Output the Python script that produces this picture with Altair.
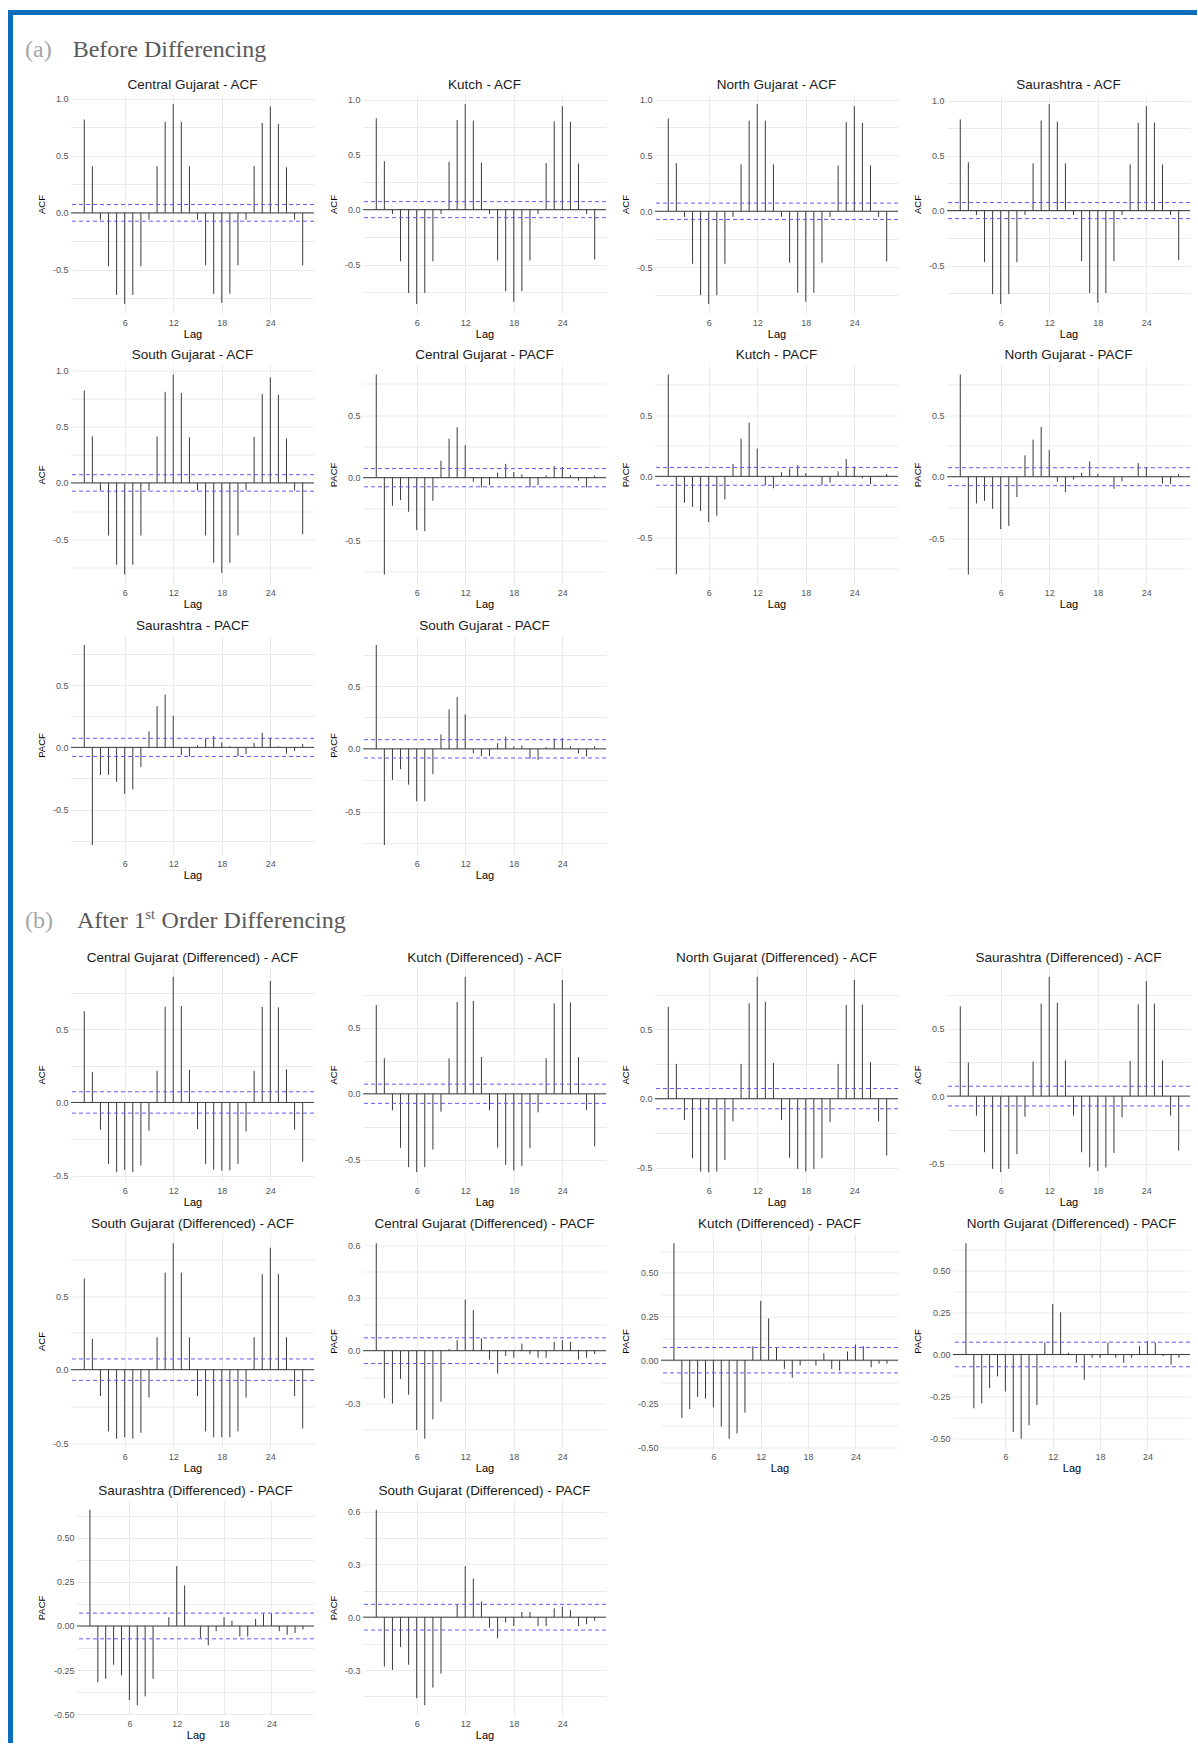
import math
import altair as alt
import pandas as pd

# ---------------- data ----------------
LAGS = list(range(1, 29))
CI = 0.073
X_BREAKS = [6, 12, 18, 24]
X_DOMAIN = [-0.64, 29.4]

ACF_A_TICKS = [-0.5, 0.0, 0.5, 1.0]
PACF_A_TICKS = [-0.5, 0.0, 0.5]
ACF_B_TICKS = [-0.5, 0.0, 0.5]
PACF_B_TICKS_1 = [-0.3, 0.0, 0.3, 0.6]
PACF_B_TICKS_2 = [-0.50, -0.25, 0.0, 0.25, 0.50]

# (a) Before differencing
A_CG_ACF = [0.82, 0.41, -0.06, -0.47, -0.72, -0.80, -0.72, -0.47, -0.06, 0.41, 0.80, 0.956, 0.80, 0.41,
            -0.06, -0.46, -0.71, -0.79, -0.71, -0.46, -0.06, 0.41, 0.79, 0.935, 0.78, 0.40, -0.06, -0.46]
A_KU_ACF = [0.832, 0.442, -0.04, -0.47, -0.76, -0.86, -0.76, -0.47, -0.04, 0.436, 0.817, 0.963, 0.811, 0.43,
            -0.04, -0.463, -0.744, -0.84, -0.744, -0.463, -0.04, 0.424, 0.805, 0.942, 0.80, 0.42, -0.04, -0.455]
A_NG_ACF = [0.83, 0.43, -0.05, -0.47, -0.75, -0.83, -0.75, -0.47, -0.05, 0.42, 0.81, 0.96, 0.81, 0.42,
            -0.05, -0.46, -0.73, -0.81, -0.73, -0.46, -0.05, 0.41, 0.80, 0.94, 0.79, 0.41, -0.05, -0.45]
A_SA_ACF = [0.83, 0.44, -0.04, -0.47, -0.76, -0.85, -0.76, -0.47, -0.04, 0.43, 0.82, 0.97, 0.81, 0.43,
            -0.04, -0.46, -0.75, -0.84, -0.75, -0.46, -0.04, 0.42, 0.80, 0.95, 0.80, 0.42, -0.04, -0.45]
A_SG_ACF = [0.822, 0.414, -0.068, -0.467, -0.728, -0.814, -0.728, -0.467, -0.068, 0.414, 0.81, 0.964, 0.80, 0.405,
            -0.068, -0.467, -0.71, -0.80, -0.71, -0.467, -0.065, 0.41, 0.79, 0.938, 0.784, 0.396, -0.068, -0.456]

A_CG_PACF = [0.826, -0.775, -0.225, -0.18, -0.273, -0.42, -0.428, -0.185, 0.136, 0.313, 0.404, 0.26, -0.032, -0.078,
             -0.06, 0.04, 0.11, 0.045, 0.027, -0.078, -0.059, 0.019, 0.094, 0.086, 0.021, -0.024, -0.078, 0.016]
A_KU_PACF = [0.833, -0.803, -0.216, -0.249, -0.284, -0.374, -0.322, -0.189, 0.10, 0.309, 0.44, 0.227, -0.071, -0.098,
             0.033, 0.063, 0.09, 0.027, 0.004, -0.074, -0.052, 0.041, 0.142, 0.079, -0.016, -0.063, 0.004, 0.019]
A_NG_PACF = [0.832, -0.796, -0.217, -0.196, -0.261, -0.427, -0.40, -0.166, 0.174, 0.302, 0.405, 0.217, -0.041, -0.125,
             -0.022, 0.033, 0.125, 0.024, 0.002, -0.098, -0.038, 0.005, 0.111, 0.076, 0.001, -0.057, -0.06, 0.022]
A_SA_PACF = [0.823, -0.785, -0.223, -0.22, -0.277, -0.374, -0.339, -0.159, 0.129, 0.331, 0.425, 0.253, -0.062, -0.073,
             0.016, 0.067, 0.091, 0.04, 0.008, -0.07, -0.054, 0.035, 0.118, 0.075, 0.008, -0.051, -0.03, 0.027]
A_SG_PACF = [0.827, -0.766, -0.247, -0.162, -0.285, -0.418, -0.418, -0.202, 0.114, 0.314, 0.412, 0.274, -0.035, -0.059,
             -0.059, 0.045, 0.098, 0.019, 0.027, -0.08, -0.088, 0.013, 0.082, 0.085, 0.021, -0.035, -0.061, 0.021]

# (b) After 1st order differencing
B_CG_ACF = [0.623, 0.209, -0.186, -0.42, -0.477, -0.461, -0.477, -0.432, -0.193, 0.216, 0.655, 0.859, 0.659, 0.223,
            -0.182, -0.42, -0.459, -0.466, -0.464, -0.42, -0.198, 0.216, 0.652, 0.83, 0.65, 0.227, -0.186, -0.405]
B_KU_ACF = [0.674, 0.27, -0.126, -0.41, -0.558, -0.596, -0.558, -0.424, -0.136, 0.27, 0.697, 0.889, 0.705, 0.28,
            -0.126, -0.41, -0.54, -0.583, -0.55, -0.414, -0.141, 0.27, 0.687, 0.864, 0.694, 0.278, -0.124, -0.40]
B_NG_ACF = [0.663, 0.251, -0.155, -0.43, -0.526, -0.531, -0.526, -0.443, -0.163, 0.251, 0.689, 0.88, 0.699, 0.258,
            -0.155, -0.426, -0.507, -0.526, -0.507, -0.43, -0.167, 0.251, 0.677, 0.856, 0.679, 0.263, -0.163, -0.411]
B_SA_ACF = [0.665, 0.249, -0.145, -0.416, -0.539, -0.564, -0.539, -0.429, -0.153, 0.256, 0.685, 0.884, 0.692, 0.264,
            -0.145, -0.416, -0.527, -0.557, -0.53, -0.421, -0.158, 0.261, 0.68, 0.852, 0.685, 0.264, -0.145, -0.404]
B_SG_ACF = [0.62, 0.21, -0.18, -0.42, -0.47, -0.46, -0.47, -0.43, -0.19, 0.22, 0.66, 0.86, 0.66, 0.22,
            -0.18, -0.42, -0.46, -0.46, -0.46, -0.42, -0.19, 0.22, 0.65, 0.83, 0.65, 0.22, -0.18, -0.40]

B_CG_PACF = [0.61, -0.27, -0.30, -0.16, -0.25, -0.45, -0.50, -0.39, -0.29, 0.01, 0.06, 0.29, 0.23, 0.07,
             -0.05, -0.13, -0.03, -0.04, 0.04, -0.02, -0.04, -0.04, 0.05, 0.06, 0.05, -0.05, -0.04, -0.02]
B_KU_PACF = [0.67, -0.33, -0.28, -0.21, -0.22, -0.27, -0.38, -0.45, -0.42, -0.30, 0.08, 0.34, 0.24, 0.07,
             -0.05, -0.10, -0.03, 0.0, -0.03, 0.04, -0.05, -0.06, 0.05, 0.09, 0.08, -0.04, -0.02, -0.02]
B_NG_PACF = [0.66, -0.32, -0.29, -0.20, -0.13, -0.22, -0.46, -0.50, -0.42, -0.30, 0.07, 0.30, 0.25, 0.01,
             -0.05, -0.15, -0.02, -0.02, 0.07, -0.02, -0.05, -0.02, 0.05, 0.08, 0.07, -0.01, -0.06, -0.02]
B_SA_PACF = [0.66, -0.32, -0.30, -0.22, -0.28, -0.42, -0.45, -0.40, -0.30, 0.0, 0.05, 0.34, 0.23, 0.0,
             -0.07, -0.11, -0.03, 0.05, 0.03, -0.06, -0.06, 0.04, 0.07, 0.07, -0.03, -0.05, -0.04, -0.02]
B_SG_PACF = [0.61, -0.28, -0.30, -0.17, -0.27, -0.46, -0.50, -0.40, -0.32, 0.0, 0.07, 0.29, 0.22, 0.09,
             -0.06, -0.12, -0.03, -0.05, 0.03, 0.03, -0.05, -0.05, 0.05, 0.06, 0.04, -0.05, -0.04, -0.02]

# ---------------- styles ----------------
BLUE = "#0a6ebd"
BAR = "#3a3a3a"
GRID = "#ebebeb"
CI_COLOR = "#5a5aff"
FONT = "Liberation Sans"
SERIF = "Liberation Serif"
ONE = pd.DataFrame({"k": [0]})


def panel(title, values, ylab, ticks, dec, wide, height):
    w = 237 if wide else 243
    ext = 27 if wide else 21
    step = round(ticks[1] - ticks[0], 6)
    lo = min(min(values), -CI, 0.0)
    hi = max(max(values), CI, 0.0)
    pad = 0.05 * (hi - lo)
    dom = [lo - pad, hi + pad]
    half = step / 2
    vals = [round(i * half, 6) for i in range(math.ceil(dom[0] / half), math.floor(dom[1] / half) + 1)]
    vals = [0.0 if abs(v) < 1e-9 else v for v in vals]
    label_expr = (f"abs(datum.value / {step} - round(datum.value / {step})) > 0.01 ? '' : "
                  f"replace(format(datum.value, '.{dec}f'), '\u2212', '-')")
    df = pd.DataFrame({"lag": LAGS, "value": values, "base": [0.0] * len(LAGS)})
    xs = alt.Scale(domain=X_DOMAIN, nice=False, zero=False)
    ys = alt.Scale(domain=dom, nice=False, zero=False)
    xaxis = alt.Axis(values=X_BREAKS, format="d", title="Lag", grid=True, gridColor=GRID, gridWidth=1,
                     ticks=False, tickSize=0, domain=False, labelFontSize=9, labelColor="#555555",
                     labelPadding=4, titleFontSize=11, titleFontWeight="normal", titleColor="#000000",
                     titlePadding=1, labelFont=FONT, titleFont=FONT)
    yaxis = alt.Axis(values=vals, labelExpr=label_expr, title=ylab, grid=True, gridColor=GRID, gridWidth=1,
                     ticks=False, tickSize=0, domain=False, labelFontSize=9, labelColor="#555555",
                     labelPadding=3, titleFontSize=9.5, titleFontWeight="normal", titleColor="#000000",
                     titlePadding=3.5, minExtent=ext, maxExtent=ext, labelFont=FONT, titleFont=FONT)
    bars = alt.Chart(df).mark_rule(color=BAR, strokeWidth=1).encode(
        x=alt.X("lag:Q", scale=xs, axis=xaxis),
        y=alt.Y("value:Q", scale=ys, axis=yaxis),
        y2="base:Q",
    )
    zero = alt.Chart(ONE).mark_rule(color="#3c3c3c", strokeWidth=1).encode(
        y=alt.Y(datum=0.0, scale=ys, axis=yaxis))
    ci_hi = alt.Chart(ONE).mark_rule(color=CI_COLOR, strokeWidth=1, strokeDash=[4, 3]).encode(
        y=alt.Y(datum=CI, scale=ys, axis=yaxis))
    ci_lo = alt.Chart(ONE).mark_rule(color=CI_COLOR, strokeWidth=1, strokeDash=[4, 3]).encode(
        y=alt.Y(datum=-CI, scale=ys, axis=yaxis))
    return alt.layer(bars, zero, ci_hi, ci_lo).properties(
        width=w, height=height,
        title=alt.TitleParams(title, fontSize=13.5, font=FONT, color="#1a1a1a", fontWeight="normal",
                              anchor="middle", frame="group", offset=3),
    )


def spacer():
    return alt.Chart(ONE).mark_rule(opacity=0).encode(
        x=alt.value(0), y=alt.value(0), y2=alt.value(1)).properties(width=9.5, height=1)


def row(panels):
    return alt.hconcat(spacer(), *panels, spacing=13)


HA = 220
HB = 215

a_row1 = row([
    panel("Central Gujarat - ACF", A_CG_ACF, "ACF", ACF_A_TICKS, 1, False, HA),
    panel("Kutch - ACF", A_KU_ACF, "ACF", ACF_A_TICKS, 1, False, HA),
    panel("North Gujarat - ACF", A_NG_ACF, "ACF", ACF_A_TICKS, 1, False, HA),
    panel("Saurashtra - ACF", A_SA_ACF, "ACF", ACF_A_TICKS, 1, False, HA),
])
a_row2 = row([
    panel("South Gujarat - ACF", A_SG_ACF, "ACF", ACF_A_TICKS, 1, False, HA),
    panel("Central Gujarat - PACF", A_CG_PACF, "PACF", PACF_A_TICKS, 1, False, HA),
    panel("Kutch - PACF", A_KU_PACF, "PACF", PACF_A_TICKS, 1, False, HA),
    panel("North Gujarat - PACF", A_NG_PACF, "PACF", PACF_A_TICKS, 1, False, HA),
])
a_row3 = row([
    panel("Saurashtra - PACF", A_SA_PACF, "PACF", PACF_A_TICKS, 1, False, HA),
    panel("South Gujarat - PACF", A_SG_PACF, "PACF", PACF_A_TICKS, 1, False, HA),
])

b_row1 = row([
    panel("Central Gujarat (Differenced) - ACF", B_CG_ACF, "ACF", ACF_B_TICKS, 1, False, HB),
    panel("Kutch (Differenced) - ACF", B_KU_ACF, "ACF", ACF_B_TICKS, 1, False, HB),
    panel("North Gujarat (Differenced) - ACF", B_NG_ACF, "ACF", ACF_B_TICKS, 1, False, HB),
    panel("Saurashtra (Differenced) - ACF", B_SA_ACF, "ACF", ACF_B_TICKS, 1, False, HB),
])
b_row2 = row([
    panel("South Gujarat (Differenced) - ACF", B_SG_ACF, "ACF", ACF_B_TICKS, 1, False, HB),
    panel("Central Gujarat (Differenced) - PACF", B_CG_PACF, "PACF", PACF_B_TICKS_1, 1, False, HB),
    panel("Kutch (Differenced) - PACF", B_KU_PACF, "PACF", PACF_B_TICKS_2, 2, True, HB),
    panel("North Gujarat (Differenced) - PACF", B_NG_PACF, "PACF", PACF_B_TICKS_2, 2, True, HB),
])
b_row3 = row([
    panel("Saurashtra (Differenced) - PACF", B_SA_PACF, "PACF", PACF_B_TICKS_2, 2, True, HB),
    panel("South Gujarat (Differenced) - PACF", B_SG_PACF, "PACF", PACF_B_TICKS_1, 1, False, HB),
])


def text_piece(txt, x, y, size, color):
    return alt.Chart(ONE).mark_text(font=SERIF, fontSize=size, color=color, align="left",
                                    baseline="alphabetic").encode(
        x=alt.value(x), y=alt.value(y), text=alt.value(txt))


head_a = alt.layer(
    text_piece("(a)", 12, 41.7, 24, "#a6a6a6"),
    text_piece("Before Differencing", 59.7, 41.7, 24, "#595959"),
).properties(width=1180, height=62)

head_b = alt.layer(
    text_piece("(b)", 12, 48, 24, "#a6a6a6"),
    text_piece("After 1", 64, 48, 24, "#595959"),
    text_piece("st", 132.6, 38.8, 14, "#595959"),
    text_piece("Order Differencing", 148.6, 48, 24, "#595959"),
).properties(width=1180, height=69.2)

grid_a = alt.vconcat(a_row1, a_row2, a_row3, spacing=8.5)
grid_b = alt.vconcat(b_row1, b_row2, b_row3, spacing=9.5)
content = alt.vconcat(head_a, grid_a, head_b, grid_b, spacing=0)

left_bar = alt.Chart(ONE).mark_rect(color=BLUE).encode(
    x=alt.value(0), x2=alt.value(5), y=alt.value(0), y2=alt.value(1728)).properties(width=5, height=1728)
top_bar = alt.Chart(ONE).mark_rect(color=BLUE).encode(
    x=alt.value(0), x2=alt.value(1189), y=alt.value(0), y2=alt.value(5)).properties(width=1189, height=5)

chart = alt.vconcat(
    top_bar,
    alt.hconcat(left_bar, content, spacing=0),
    spacing=0,
).properties(
    padding={"left": 8, "top": 10, "right": 0, "bottom": 0},
    background="white",
).configure_view(stroke=None).configure_axis(labelFont=FONT, titleFont=FONT).configure_title(font=FONT)

chart.save("out.html", embed_options={"renderer": "svg", "actions": False})
